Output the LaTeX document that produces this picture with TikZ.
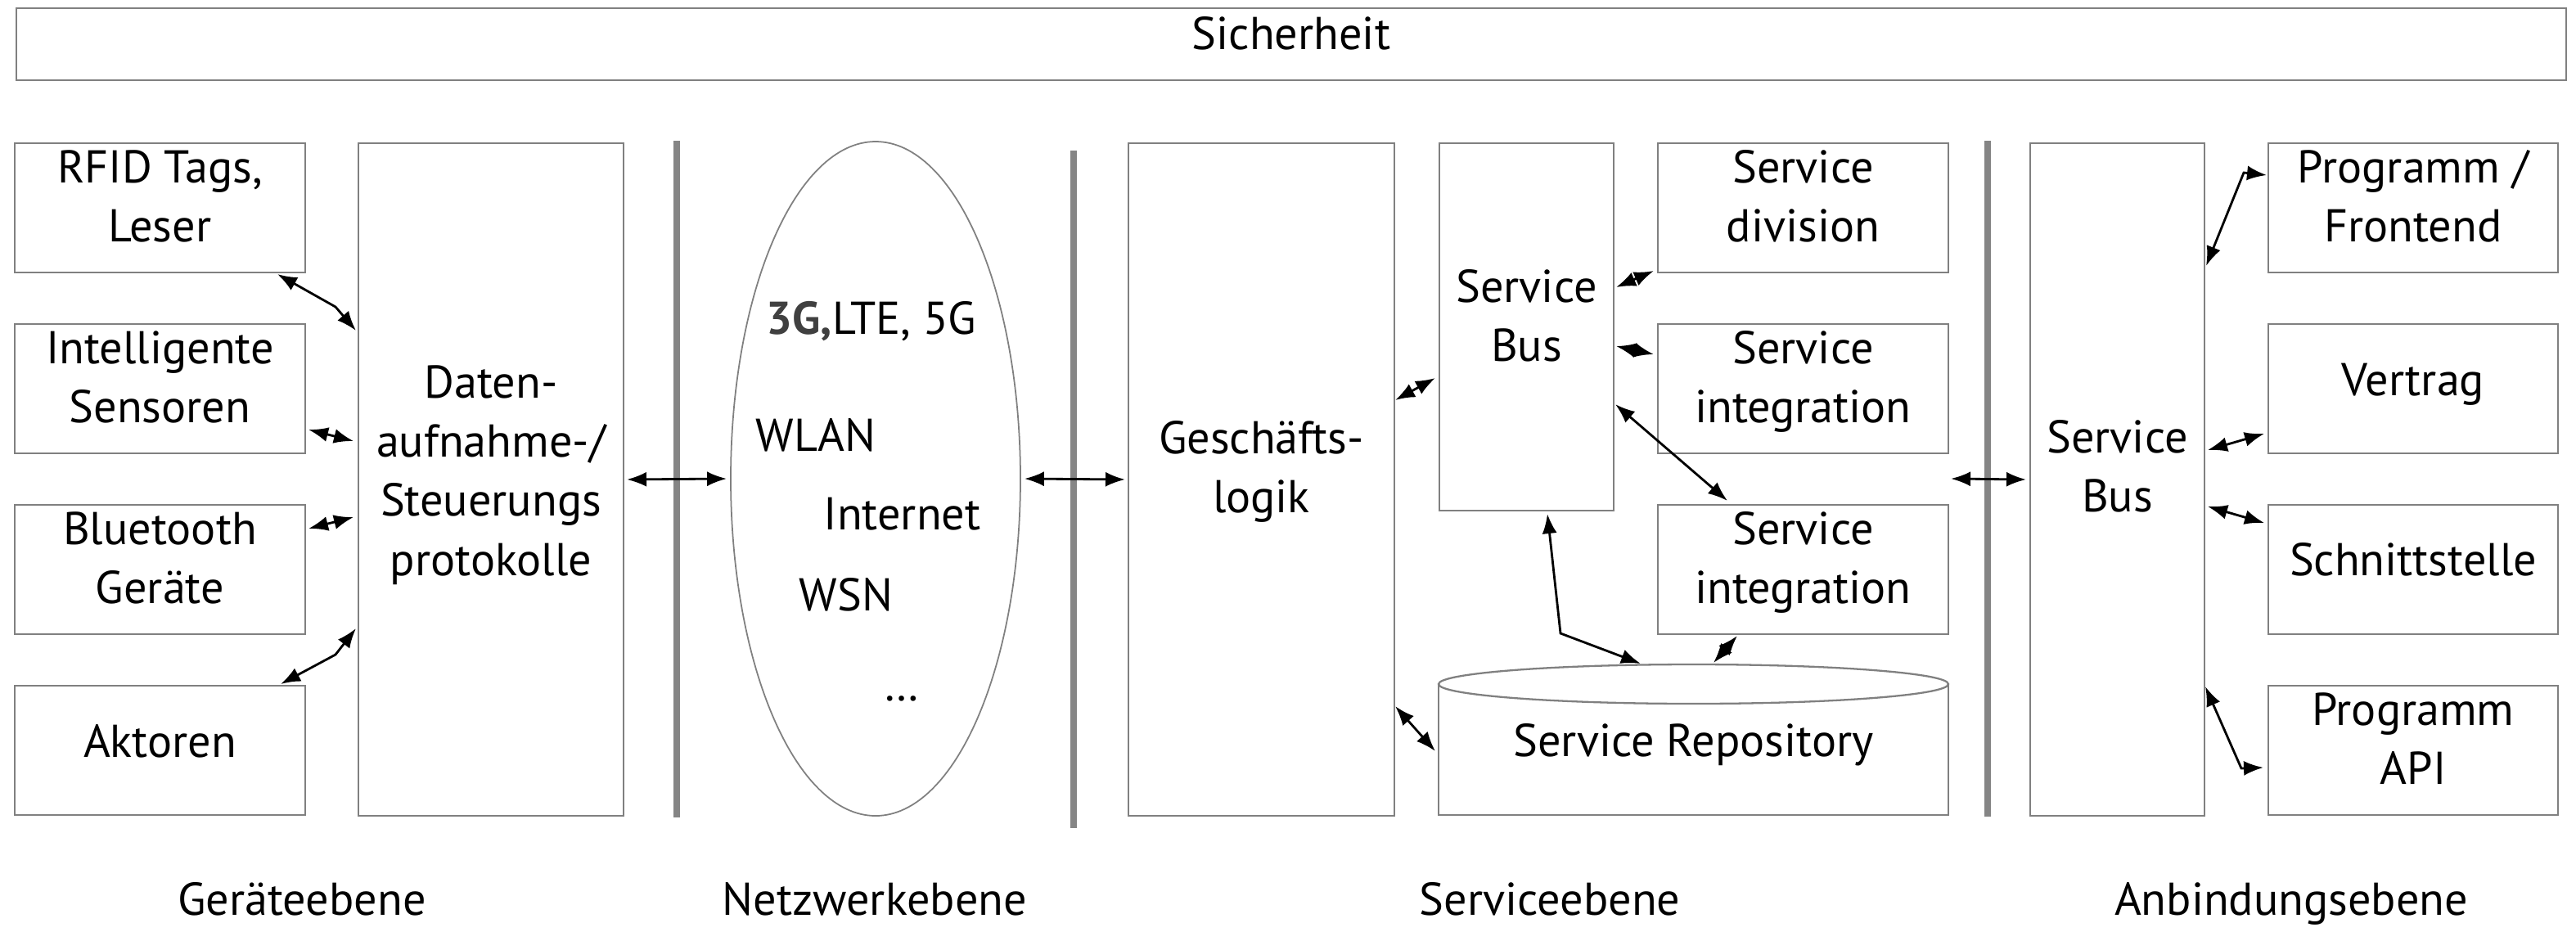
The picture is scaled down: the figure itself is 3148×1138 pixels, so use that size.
\documentclass[tikz,border=0pt]{standalone}
\usepackage{fontspec}
\setmainfont{PT Sans}
\usetikzlibrary{arrows.meta,calc,shapes.geometric}
\definecolor{boxgray}{HTML}{808080}
\definecolor{sepgray}{HTML}{858585}
\definecolor{darktxt}{HTML}{404040}
\newcommand\bxt[4]{\parbox[c][#2][t]{#1}{\centering\rule{0pt}{#3}#4\par}}
\begin{document}
\begin{tikzpicture}[x=0.1mm,y=-0.1mm,
  every node/.style={font=\fontsize{16}{20.6}\selectfont},
  bx/.style={draw=boxgray, line width=0.65pt, inner sep=0pt, outer sep=0pt, anchor=north west},
  sep/.style={draw=sepgray, line width=2.1pt},
  arr/.style={{Latex[length=2.4mm,width=1.8mm]}-{Latex[length=2.4mm,width=1.8mm]}, line width=0.8pt},
  lbl/.style={anchor=base west, inner sep=0pt},
  captxt/.style={anchor=base, inner sep=0pt}]
\useasboundingbox (0,0) rectangle (3148,1138);

% top bar
\node[bx] (sich) at (20,10) {\bxt{311.6mm}{8.8mm}{5.0mm}{Sicherheit}};

% device layer
\node[bx] (rfid) at (18,175) {\bxt{35.5mm}{15.8mm}{4.8mm}{RFID Tags,\\Leser}};
\node[bx] (sens) at (18,396) {\bxt{35.5mm}{15.8mm}{4.8mm}{Intelligente\\Sensoren}};
\node[bx] (blue) at (18,617) {\bxt{35.5mm}{15.8mm}{4.8mm}{Bluetooth\\Geräte}};
\node[bx] (akt)  at (18,838) {\bxt{35.5mm}{15.8mm}{8.7mm}{Aktoren}};
\node[bx] (daten) at (438,175) {\bxt{32.4mm}{82.2mm}{31.1mm}{Daten-\\aufnahme-/\\Steuerungs\\protokolle}};

% separators
\draw[sep] (827,172) -- (827,999);
\draw[sep] (1312,184) -- (1312,1012);
\draw[sep] (2429,172) -- (2429,998);

% network layer
\node[draw=boxgray, line width=0.5pt, ellipse, minimum width=35.4mm, minimum height=82.4mm, inner sep=0pt] (net) at (1070,585) {};
\node[lbl] (t3g) at (936,408) {{\bfseries\color{darktxt}3G,}LTE, 5G};
\node[lbl] (twlan) at (923,551) {WLAN};
\node[lbl] (tint) at (1006,647) {Internet};
\node[lbl] (twsn) at (976,746) {WSN};
\node[lbl] (tdots) at (1080,856) {…};

% service layer
\node[bx] (gl) at (1379,175) {\bxt{32.5mm}{82.2mm}{37.9mm}{Geschäfts-\\logik}};
\node[bx] (sbus) at (1759,175) {\bxt{21.3mm}{44.9mm}{19.4mm}{Service\\Bus}};
\node[bx] (sdiv) at (2026,175) {\bxt{35.5mm}{15.8mm}{4.8mm}{Service\\division}};
\node[bx] (sint1) at (2026,396) {\bxt{35.5mm}{15.8mm}{4.8mm}{Service\\integration}};
\node[bx] (sint2) at (2026,617) {\bxt{35.5mm}{15.8mm}{4.8mm}{Service\\integration}};
\node[anchor=north west, inner sep=0pt, outer sep=0pt] (repo) at (1758,811) {\bxt{62.3mm}{18.5mm}{11.3mm}{Service Repository}};
\draw[boxgray, line width=0.65pt] ($(repo.north west)+(0,25)$) -- (repo.south west) -- (repo.south east) -- ($(repo.north east)+(0,25)$);
\draw[boxgray, line width=0.65pt, fill=white] ($(repo.north)+(0,25)$) ellipse [x radius=31.15mm, y radius=2.4mm];

% connection layer
\node[bx] (sbus2) at (2481,175) {\bxt{21.3mm}{82.2mm}{37.8mm}{Service\\Bus}};
\node[bx] (prog) at (2772,175) {\bxt{35.4mm}{15.8mm}{4.8mm}{Programm /\\Frontend}};
\node[bx] (vert) at (2772,396) {\bxt{35.4mm}{15.8mm}{8.7mm}{Vertrag}};
\node[bx] (schn) at (2772,617) {\bxt{35.4mm}{15.8mm}{8.6mm}{Schnittstelle}};
\node[bx] (api) at (2772,838) {\bxt{35.4mm}{15.8mm}{4.8mm}{Programm\\API}};

% captions
\node[captxt] (c1) at (369,1118) {Geräteebene};
\node[captxt] (c2) at (1069,1118) {Netzwerkebene};
\node[captxt] (c3) at (1894,1118) {Serviceebene};
\node[captxt] (c4) at (2800,1118) {Anbindungsebene};

% connectors
\draw[arr] ($(rfid.south east)+(-34,2)$) -- (410,375) -- ($(daten.north west)+(-3,229)$);
\draw[arr] ($(sens.south east)+(4,-29)$) -- ($(daten.north west)+(-6,364)$);
\draw[arr] ($(blue.north east)+(4,29)$) -- ($(daten.north west)+(-6,457)$);
\draw[arr] ($(akt.north east)+(-30,-2)$) -- (410,800) -- ($(daten.north west)+(-3,593)$);
\draw[arr, shorten <=0.4mm, shorten >=0.4mm] (daten.east) -- (net.west);
\draw[arr, shorten <=0.4mm, shorten >=0.4mm] (net.east) -- (gl.west);
\draw[arr] ($(gl.north east)+(1,314)$) -- ($(sbus.north west)+(-5,287)$);
\draw[arr] ($(gl.north east)+(1,688)$) -- ($(repo.north west)+(-4,107)$);
\draw[arr] ($(sbus.north east)+(3,176)$) -- ($(sdiv.south west)+(-5,-2)$);
\draw[arr] ($(sbus.north east)+(3,248)$) -- ($(sint1.north west)+(-5,37)$);
\draw[arr] ($(sbus.north east)+(2,319)$) -- ($(sint2.north west)+(85,-5)$);
\draw[arr] ($(sbus.south west)+(132,4)$) -- (1907,774) -- ($(repo.north west)+(247,0)$);
\draw[arr] ($(sint2.south west)+(97,2)$) -- ($(repo.north west)+(336,-1)$);
\coordinate (svcR) at (2384,585);
\draw[arr] (svcR) -- ($(sbus2.west)+(-5,0)$);
\draw[arr] ($(sbus2.north east)+(2,150)$) -- (2742,211) -- ($(prog.north west)+(-2,39)$);
\draw[arr] ($(sbus2.north east)+(4,375)$) -- ($(vert.south west)+(-5,-24)$);
\draw[arr] ($(sbus2.north east)+(4,444)$) -- ($(schn.north west)+(-5,22)$);
\draw[arr] ($(sbus2.north east)+(1,664)$) -- (2739,939) -- ($(api.north west)+(-6,100)$);
\end{tikzpicture}
\end{document}
